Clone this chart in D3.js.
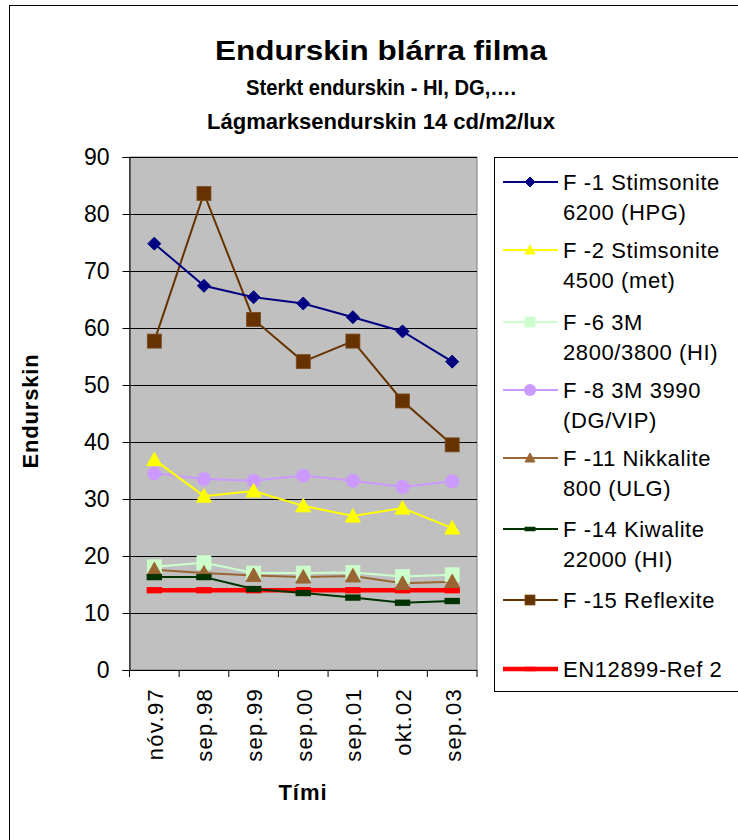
<!DOCTYPE html>
<html><head><meta charset="utf-8">
<script src="https://cdn.jsdelivr.net/npm/d3@7/dist/d3.min.js"></script>
<style>body{margin:0;background:#fff}svg{display:block;font-family:"Liberation Sans",Arial,sans-serif}</style>
</head><body>
<script>
const categories = ["nóv.97","sep.98","sep.99","sep.00","sep.01","okt.02","sep.03"];
const yTicks = [0,10,20,30,40,50,60,70,80,90];
const titleLines = ["Endurskin blárra filma","Sterkt endurskin - HI, DG,….","Lágmarksendurskin 14 cd/m2/lux"];
const f1  = [74.8, 67.4, 65.4, 64.3, 61.9, 59.4, 54.1];
const f2  = [36.9, 30.5, 31.4, 28.8, 27.0, 28.4, 24.9];
const f6  = [18.1, 18.8, 17.0, 17.0, 17.1, 16.4, 16.7];
const f8  = [34.5, 33.5, 33.2, 34.1, 33.2, 32.1, 33.1];
const f11 = [17.6, 17.0, 16.6, 16.3, 16.5, 15.2, 15.5];
const f14 = [16.3, 16.3, 14.2, 13.5, 12.7, 11.8, 12.1];
const f15 = [57.7, 83.6, 61.5, 54.1, 57.7, 47.2, 39.5];
const ref = [14, 14, 14, 14, 14, 14, 14];
const seriesNames = [["F -1 Stimsonite","6200 (HPG)"],["F -2 Stimsonite","4500 (met)"],["F -6 3M","2800/3800 (HI)"],["F -8 3M 3990","(DG/VIP)"],["F -11 Nikkalite","800 (ULG)"],["F -14 Kiwalite","22000 (HI)"],["F -15 Reflexite"],["EN12899-Ref 2"]];

const series = [
  {name:seriesNames[0], values:f1,  color:"#000080", marker:"diamond", lw:2},
  {name:seriesNames[1], values:f2,  color:"#FFFF00", marker:"triangle", lw:2},
  {name:seriesNames[2], values:f6,  color:"#CCFFCC", marker:"square", lw:2},
  {name:seriesNames[3], values:f8,  color:"#CC99FF", marker:"circle", lw:2},
  {name:seriesNames[4], values:f11, color:"#996633", marker:"triangle", lw:2},
  {name:seriesNames[5], values:f14, color:"#003300", marker:"dash", lw:2},
  {name:seriesNames[6], values:f15, color:"#663300", marker:"square", lw:2},
  {name:seriesNames[7], values:ref, color:"#FF0000", marker:"dash", lw:4.5}
];

const W=738,H=840;
const svg=d3.select("body").append("svg").attr("width",W).attr("height",H);
svg.append("rect").attr("x",9.5).attr("y",5.5).attr("width",800).attr("height",900).attr("fill","#fff").attr("stroke","#000");

const pl=129.5, pr=477, pt=157, pb=670;
const x=d3.scaleBand().domain(categories).range([pl,pr]).padding(0);
const xc=c=>x(c)+x.bandwidth()/2;
const y=d3.scaleLinear().domain([0,90]).range([pb,pt]);

// title
const tf=[28,22,22], ty=[60,95,129], tlen=[332,270,348];
titleLines.forEach((t,i)=>svg.append("text").attr("x",381).attr("y",ty[i]).attr("text-anchor","middle")
  .attr("font-weight","bold").attr("font-size",tf[i]).attr("textLength",tlen[i]).attr("lengthAdjust","spacingAndGlyphs").text(t));

// plot area
svg.append("rect").attr("x",pl).attr("y",pt).attr("width",pr-pl).attr("height",pb-pt).attr("fill","#C0C0C0").attr("stroke","#808080");
svg.append("g").selectAll("line").data(yTicks.filter(d=>d>0)).join("line")
  .attr("x1",pl).attr("x2",pr).attr("y1",d=>Math.round(y(d))+0.5).attr("y2",d=>Math.round(y(d))+0.5).attr("stroke","#000");

// y axis
const ya=svg.append("g").attr("transform",`translate(${pl},0)`).call(d3.axisLeft(y).tickValues(yTicks).tickSize(7).tickPadding(13));
ya.select(".domain").attr("stroke","#000");
ya.selectAll(".tick line").attr("stroke","#000");
ya.selectAll("text").attr("font-size",23).attr("font-family","Liberation Sans, Arial").attr("fill","#000");

// x axis
const xa=svg.append("g").attr("transform",`translate(0,${pb})`).call(d3.axisBottom(x).tickSize(0).tickPadding(0));
xa.select(".domain").remove();
xa.selectAll("text").attr("font-size",22).attr("font-family","Liberation Sans, Arial").attr("fill","#000")
  .attr("text-anchor","end").attr("dy",null).attr("letter-spacing","1.3px")
  .attr("transform","translate(8.5,18) rotate(-90)");
svg.append("line").attr("x1",pl).attr("x2",pr).attr("y1",pb+0.5).attr("y2",pb+0.5).attr("stroke","#000");
svg.append("g").selectAll("line").data(categories.concat(["end"])).join("line")
  .attr("x1",(d,i)=>i<categories.length?x(d):pr).attr("x2",(d,i)=>i<categories.length?x(d):pr)
  .attr("y1",pb).attr("y2",pb+7).attr("stroke","#000");

// axis titles
svg.append("text").attr("transform","translate(38,411) rotate(-90)").attr("text-anchor","middle")
  .attr("font-weight","bold").attr("font-size",22).attr("letter-spacing","0.8px").text("Endurskin");
svg.append("text").attr("x",303).attr("y",800).attr("text-anchor","middle")
  .attr("font-weight","bold").attr("font-size",22).attr("letter-spacing","1px").text("Tími");

function marker(g,type,color,s){
  if(type==="diamond") g.append("path").attr("d",`M0,${-s}L${s},0L0,${s}L${-s},0Z`).attr("fill",color).attr("stroke",color);
  else if(type==="triangle") g.append("path").attr("d",`M0,${-s}L${s},${s*0.8}L${-s},${s*0.8}Z`).attr("fill",color).attr("stroke",color);
  else if(type==="square") g.append("rect").attr("x",-s).attr("y",-s).attr("width",2*s).attr("height",2*s).attr("fill",color).attr("stroke",color==="#CCFFCC"?"#CCFFCC":"#7a4a20").attr("stroke-width",0.8);
  else if(type==="circle") g.append("circle").attr("r",s).attr("fill",color);
  else if(type==="dash") g.append("rect").attr("x",-s*1.1).attr("y",-s*0.45).attr("width",s*2.2).attr("height",s*0.9).attr("fill",color);
}

const line=d3.line().x((d,i)=>xc(categories[i])).y(d=>y(d));
const order=[7,2,4,5,3,1,6,0];
order.forEach(k=>{
  const s=series[k];
  svg.append("path").datum(s.values).attr("d",line).attr("fill","none").attr("stroke",s.color).attr("stroke-width",s.lw);
});
order.forEach(k=>{
  const s=series[k];
  const sz={diamond:6.5,triangle:7.5,square:7,circle:7,dash:7}[s.marker];
  s.values.forEach((v,i)=>{
    const g=svg.append("g").attr("transform",`translate(${xc(categories[i])},${y(v)})`);
    marker(g,s.marker,s.color,sz);
  });
});

// legend
svg.append("rect").attr("x",494.5).attr("y",157.5).attr("width",300).attr("height",534).attr("fill","#fff").attr("stroke","#000");
const ly=[182,250,322,390,458,529,600,669];
series.forEach((s,i)=>{
  const g=svg.append("g").attr("transform",`translate(0,${ly[i]})`);
  g.append("line").attr("x1",503).attr("x2",558).attr("y1",0).attr("y2",0).attr("stroke",s.color).attr("stroke-width",i===7?4.5:2);
  const mg=g.append("g").attr("transform","translate(530,0)");
  marker(mg,s.marker,s.color,s.marker==="circle"?6:5);
  s.name.forEach((t,j)=>g.append("text").attr("x",563).attr("y",8+j*30).attr("font-size",22).attr("letter-spacing","0.6px").text(t));
});
</script>
</body></html>
